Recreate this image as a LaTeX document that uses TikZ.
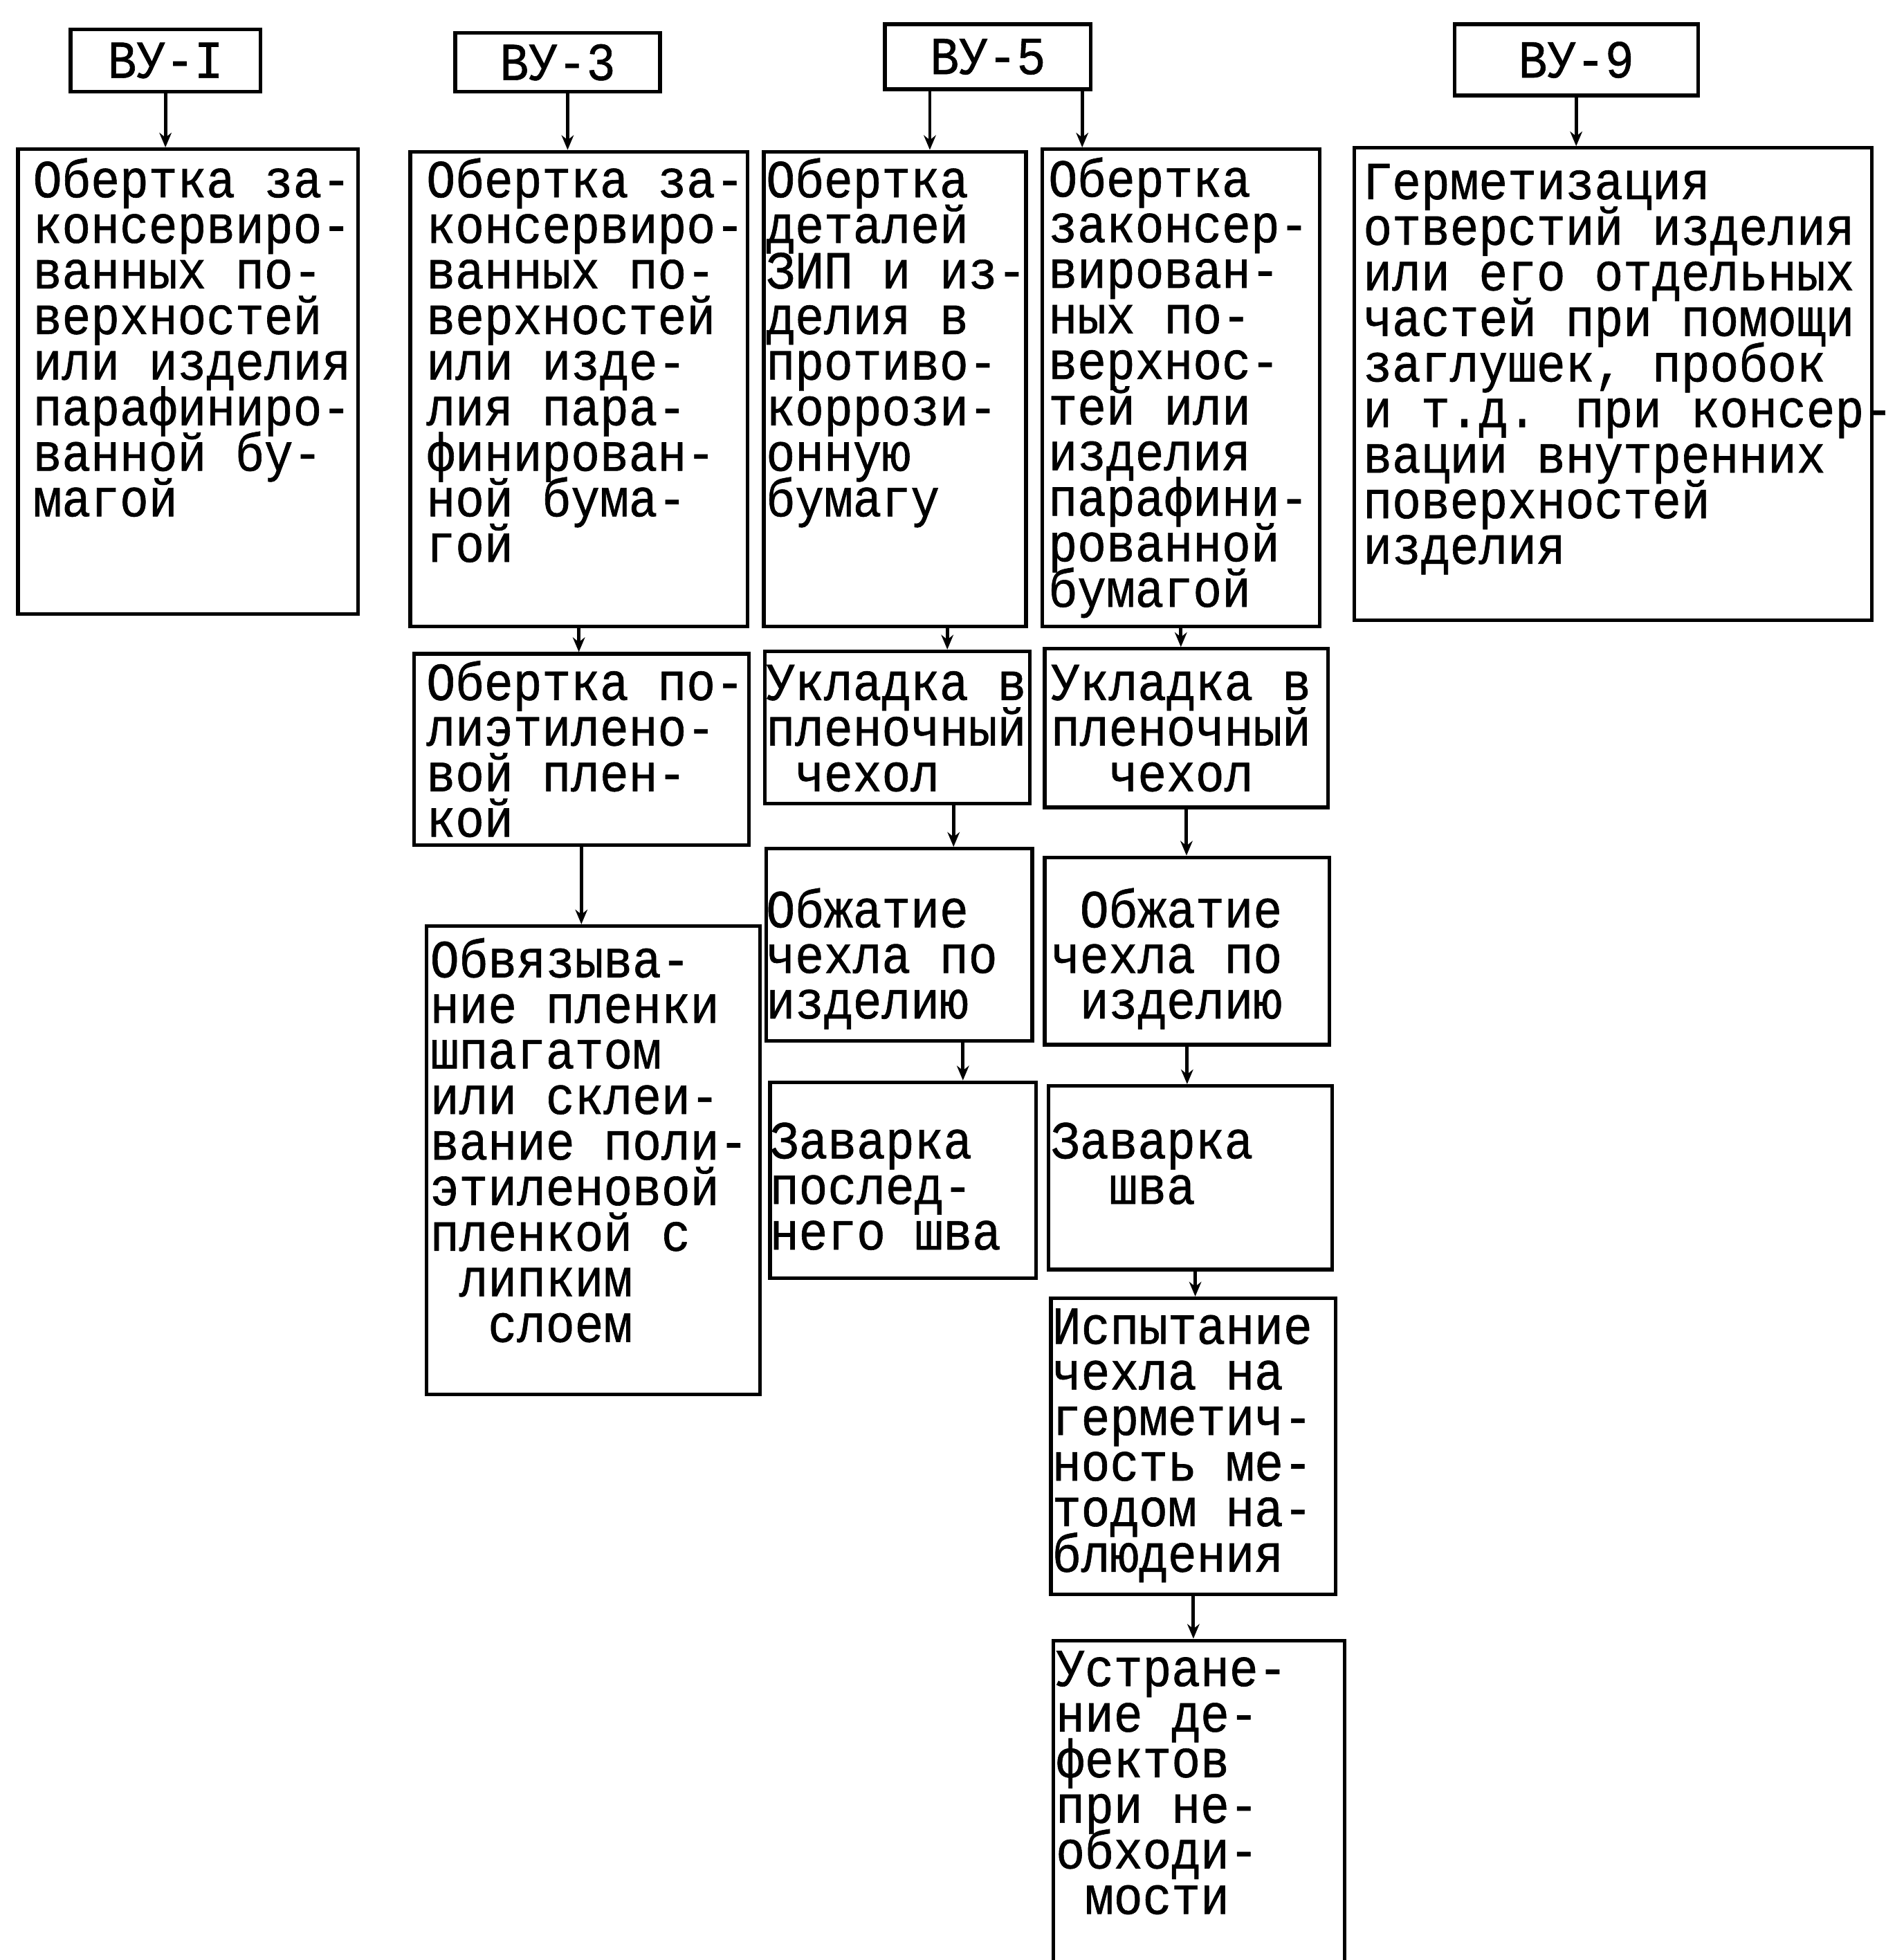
\documentclass[tikz,border=0pt]{standalone}
\usepackage{fontspec}
\newfontfamily\tw{Liberation Mono}[FakeStretch=0.9, FakeBold=0.8]
\usetikzlibrary{arrows.meta}

\newlength{\px}\setlength{\px}{0.1805mm}
\newcommand{\twsize}{\tw\fontsize{22pt}{18.74pt}\selectfont\lineskiplimit=-100pt\relax}
% width, height, left pad, top pad, lines
\newcommand{\blk}[5]{\makebox[#1\px][l]{\hspace*{#3\px}\parbox[t][#2\px][t]{900\px}{\twsize\vspace*{#4\px}\prevdepth=0pt #5}}}

\begin{document}
\begin{tikzpicture}[x=0.1805mm, y=-0.1805mm,
    vu/.style={draw, line width=1.5pt, inner sep=0pt, anchor=north west, font=\twsize},
    blk/.style={draw, line width=1.5pt, inner sep=0pt, anchor=north west},
    arr/.style={line width=1.4pt, -{Stealth[length=6pt,width=5pt]}}]

    \useasboundingbox (0,0) rectangle (1510,1569.3);

      \node [vu, minimum width=152\px, minimum height=50\px] (vu1) at (55,22) {ВУ-I};
      \node [vu, minimum width=164\px, minimum height=47\px] (vu3) at (363,25) {ВУ-3};
      \node [vu, minimum width=165\px, minimum height=52\px] (vu5) at (707,18) {ВУ-5};
      \node [vu, minimum width=195\px, minimum height=57\px] (vu9) at (1163,18) {ВУ-9};

      \node [blk] (obr1) at (13,118) {\blk{272}{372}{12}{2}{Обертка за-\\консервиро-\\ванных по-\\верхностей\\или изделия\\парафиниро-\\ванной бу-\\магой}};
      \node [blk] (obr3) at (327,120) {\blk{270}{380}{13}{0}{Обертка за-\\консервиро-\\ванных по-\\верхностей\\или изде-\\лия пара-\\финирован-\\ной бума-\\гой}};
      \node [blk] (obr5) at (610,120) {\blk{210}{380}{2}{0}{Обертка\\деталей\\ЗИП и из-\\делия в\\противо-\\коррози-\\онную\\бумагу}};
      \node [blk] (obr6) at (833,118) {\blk{222}{382}{5}{1.5}{Обертка\\законсер-\\вирован-\\ных по-\\верхнос-\\тей или\\изделия\\парафини-\\рованной\\бумагой}};
      \node [blk] (germ) at (1083,117) {\blk{414}{378}{7}{4.5}{Герметизация\\отверстий изделия\\или его отдельных\\частей при помощи\\заглушек, пробок\\и т.д. при консер-\\вации внутренних\\поверхностей\\изделия}};

      \node [blk] (plen) at (330,522) {\blk{268}{153}{10}{0.5}{Обертка по-\\лиэтилено-\\вой плен-\\кой}};
      \node [blk] (ukl5) at (611,520) {\blk{212}{122}{1}{2.5}{Укладка в\\пленочный\\\phantom{x}чехол}};
      \node [blk] (ukl6) at (835,518) {\blk{227}{127}{5}{4.5}{Укладка в\\пленочный\\\phantom{xx}чехол}};

      \node [blk] (obv) at (340,740) {\blk{267}{375}{3}{4.5}{Обвязыва-\\ние пленки\\шпагатом\\или склеи-\\вание поли-\\этиленовой\\пленкой с\\\phantom{x}липким\\\phantom{xx}слоем}};
      \node [blk] (obzh5) at (612,678) {\blk{213}{154}{0}{26.5}{Обжатие\\чехла по\\изделию}};
      \node [blk] (obzh6) at (835,685) {\blk{228}{150}{5}{19.5}{\phantom{x}Обжатие\\чехла по\\\phantom{x}изделию}};

      \node [blk] (zav5) at (615,865) {\blk{213}{157}{0}{24.5}{Заварка\\послед-\\него шва}};
      \node [blk] (zav6) at (838,868) {\blk{227}{147}{2}{21.5}{Заварка\\\phantom{xx}шва}};
      \node [blk] (isp) at (840,1038) {\blk{228}{237}{1}{0}{Испытание\\чехла на\\герметич-\\ность ме-\\тодом на-\\блюдения}};
      \node [blk] (ustr) at (842,1312) {\blk{233}{300}{2}{0}{Устране-\\ние де-\\фектов\\при не-\\обходи-\\\phantom{x}мости}};

      \draw [arr] (vu1) -- (vu1 |- obr1.north);
      \draw [arr] ([xshift=8\px]vu3.south) -- ([xshift=8\px]vu3.south |- obr3.north);
      \draw [arr] ([xshift=-46.5\px]vu5.south) -- ([xshift=-46.5\px]vu5.south |- obr5.north);
      \draw [arr] ([xshift=75.5\px]vu5.south) -- ([xshift=75.5\px]vu5.south |- obr6.north);
      \draw [arr] (vu9) -- (vu9 |- germ.north);

      \draw [arr] (obr3) -- (obr3 |- plen.north);
      \draw [arr] (plen) -- (plen |- obv.north);
      \draw [arr] ([xshift=42\px]obr5.south) -- ([xshift=42\px]obr5.south |- ukl5.north);
      \draw [arr] ([xshift=45\px]ukl5.south) -- ([xshift=45\px]ukl5.south |- obzh5.north);
      \draw [arr] ([xshift=51\px]obzh5.south) -- ([xshift=51\px]obzh5.south |- zav5.north);
      \draw [arr] (obr6) -- (obr6 |- ukl6.north);
      \draw [arr] (ukl6) -- (ukl6 |- obzh6.north);
      \draw [arr] (obzh6) -- (obzh6 |- zav6.north);
      \draw [arr] ([xshift=4\px]zav6.south) -- ([xshift=4\px]zav6.south |- isp.north);
      \draw [arr] (isp) -- (isp |- ustr.north);

\end{tikzpicture}
\end{document}
